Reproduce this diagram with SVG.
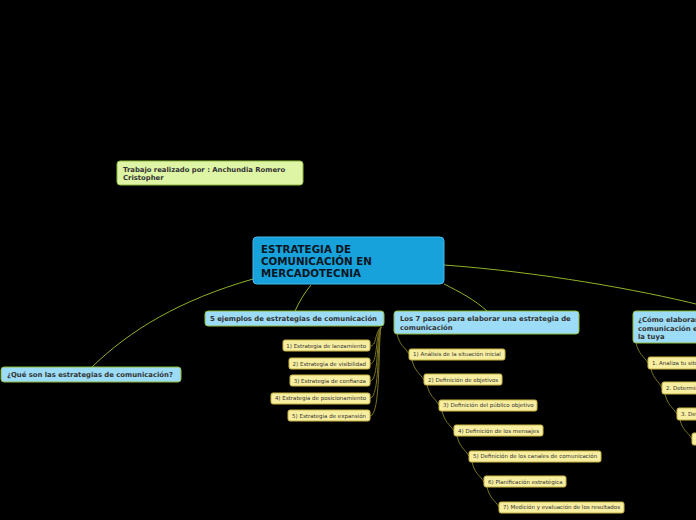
<svg xmlns="http://www.w3.org/2000/svg" width="696" height="520" viewBox="0 0 696 520">
<style>
.bg{fill:#000}
.main rect{fill:#17a2dc;stroke:#45b9ea;stroke-width:1}
.main text{font-family:"DejaVu Sans",sans-serif;font-weight:bold;font-size:10.3px;fill:#0b1622}
.blue rect{fill:#9cdcf6;stroke:#8db83a;stroke-width:1}
.green rect{fill:#dff5a6;stroke:#8db83a;stroke-width:1}
.t1{font-family:"DejaVu Sans",sans-serif;font-weight:bold;font-size:6.85px;fill:#333}
.yel rect{fill:#f8eea0;stroke:#c7b445;stroke-width:1}
.t2{font-family:"DejaVu Sans",sans-serif;font-size:5.5px;fill:#333}
.c1{fill:none;stroke:#8fb12a;stroke-width:1}
.c2{fill:none;stroke:#7a7320;stroke-width:1}
</style>
<rect class="bg" x="0" y="0" width="696" height="520"/>
<g id="connectors">
<path class="c1" d="M253,279 C180,300 130,330 92,367"/>
<path class="c1" d="M311,285 C305,292 299,302 295,311"/>
<path class="c1" d="M444,284 C460,292 475,300 487,311"/>
<path class="c1" d="M444,265 C540,272 640,290 700,305"/>
<path class="c2" d="M381,327 C374,334 377,346 370,346"/>
<path class="c2" d="M381,327 C375,336 378,364 370,364"/>
<path class="c2" d="M381,327 C376,338 379,381 370,381"/>
<path class="c2" d="M381,327 C377,340 380,398 370,398"/>
<path class="c2" d="M381,327 C378,342 381,416 370,416"/>
<path class="c2" d="M397,334 C400,346 404,346 409,354"/>
<path class="c2" d="M412,360 C415,372 419,372 424,380"/>
<path class="c2" d="M427,385 C430,397 434,397 439,405"/>
<path class="c2" d="M442,411 C445,423 449,423 454,431"/>
<path class="c2" d="M457,436 C460,448 464,448 469,456"/>
<path class="c2" d="M472,462 C475,474 479,474 484,482"/>
<path class="c2" d="M487,487 C490,499 494,499 499,507"/>
<path class="c2" d="M636,343 C639,355 643,355 648,363"/>
<path class="c2" d="M651,369 C654,380 658,380 662,388"/>
<path class="c2" d="M665,394 C668,406 672,406 677,414"/>
<path class="c2" d="M680,420 C683,431 687,431 692,439"/>
</g>
<g id="central" class="main">
<rect x="253" y="237" width="191" height="47" rx="4"/>
<text x="261" y="253">ESTRATEGIA DE</text>
<text x="261" y="265">COMUNICACIÓN EN</text>
<text x="261" y="277">MERCADOTECNIA</text>
</g>
<g id="autor" class="green">
<rect x="117" y="161" width="186" height="24" rx="3"/>
<text class="t1" x="123" y="172">Trabajo realizado por : Anchundia Romero</text>
<text class="t1" x="123" y="180">Cristopher</text>
</g>
<g id="que-son" class="blue">
<rect x="1" y="367" width="180" height="15" rx="3"/>
<text class="t1" x="7" y="377">¿Qué son las estrategias de comunicación?</text>
</g>
<g id="ejemplos" class="blue">
<rect x="205" y="311" width="179" height="15" rx="3"/>
<text class="t1" x="210" y="321">5 ejemplos de estrategias de comunicación</text>
</g>
<g id="pasos" class="blue">
<rect x="394" y="311" width="185" height="23" rx="3"/>
<text class="t1" x="400" y="321">Los 7 pasos para elaborar una estrategia de</text>
<text class="t1" x="400" y="330">comunicación</text>
</g>
<g id="como" class="blue">
<rect x="633" y="311" width="80" height="32" rx="3"/>
<text class="t1" x="638" y="322">¿Cómo elaborar una estrategia de</text>
<text class="t1" x="638" y="331">comunicación efectiva para</text>
<text class="t1" x="638" y="339">la tuya</text>
</g>
<g id="e1" class="yel"><rect x="283" y="340" width="87" height="11" rx="2"/><text class="t2" x="366" y="348" text-anchor="end">1) Estrategia de lanzamiento</text></g>
<g id="e2" class="yel"><rect x="289" y="358" width="81" height="11" rx="2"/><text class="t2" x="366" y="366" text-anchor="end">2) Estrategia de visibilidad</text></g>
<g id="e3" class="yel"><rect x="290" y="375" width="80" height="11" rx="2"/><text class="t2" x="366" y="383" text-anchor="end">3) Estrategia de confianza</text></g>
<g id="e4" class="yel"><rect x="271" y="393" width="99" height="11" rx="2"/><text class="t2" x="366" y="400" text-anchor="end">4) Estrategia de posicionamiento</text></g>
<g id="e5" class="yel"><rect x="288" y="410" width="82" height="11" rx="2"/><text class="t2" x="366" y="418" text-anchor="end">5) Estrategia de expansión</text></g>
<g id="p1" class="yel"><rect x="409" y="349" width="96" height="11" rx="2"/><text class="t2" x="413" y="356">1) Análisis de la situación inicial</text></g>
<g id="p2" class="yel"><rect x="424" y="374" width="78" height="11" rx="2"/><text class="t2" x="428" y="382">2) Definición de objetivos</text></g>
<g id="p3" class="yel"><rect x="439" y="400" width="98" height="11" rx="2"/><text class="t2" x="443" y="407">3) Definición del público objetivo</text></g>
<g id="p4" class="yel"><rect x="454" y="425" width="89" height="11" rx="2"/><text class="t2" x="458" y="433">4) Definición de los mensajes</text></g>
<g id="p5" class="yel"><rect x="469" y="451" width="132" height="11" rx="2"/><text class="t2" x="473" y="458">5) Definición de los canales de comunicación</text></g>
<g id="p6" class="yel"><rect x="484" y="476" width="82" height="11" rx="2"/><text class="t2" x="488" y="484">6) Planificación estratégica</text></g>
<g id="p7" class="yel"><rect x="499" y="502" width="125" height="11" rx="2"/><text class="t2" x="503" y="509">7) Medición y evaluación de los resultados</text></g>
<g id="c1" class="yel"><rect x="648" y="357" width="60" height="12" rx="2"/><text class="t2" x="652" y="365">1. Analiza tu situación</text></g>
<g id="c2" class="yel"><rect x="662" y="382" width="50" height="12" rx="2"/><text class="t2" x="666" y="390">2. Determina</text></g>
<g id="c3" class="yel"><rect x="677" y="408" width="40" height="12" rx="2"/><text class="t2" x="681" y="416">3. Define</text></g>
<g id="c4" class="yel"><rect x="692" y="433" width="30" height="12" rx="2"/></g>
</svg>
